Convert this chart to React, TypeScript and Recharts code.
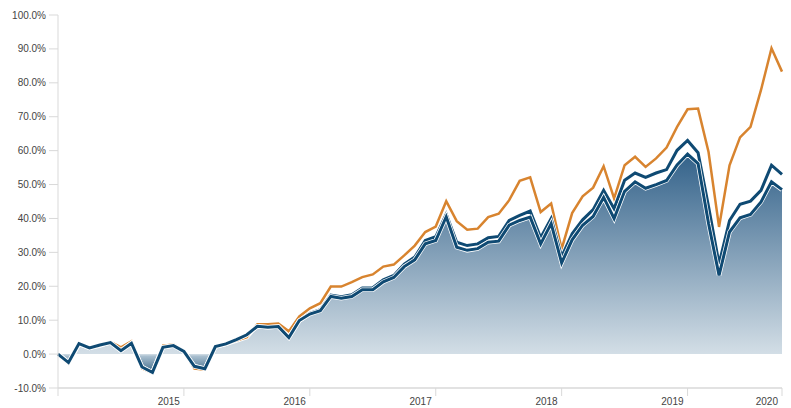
import React from "react";
import { Area, ComposedChart, Line, XAxis, YAxis } from "recharts";

// cumulative return, %, one point per month
const portfolio = [
  0, -2.5, 3.1, 1.8, 2.7, 3.4, 1.0, 3.2, -3.8, -5.4, 2.0, 2.5, 0.8, -3.6, -4.3, 2.2, 3.0, 4.3, 5.7, 8.2,
  7.9, 8.1, 4.9, 9.9, 11.8, 12.8, 17.0, 16.5, 17.0, 19.0, 19.0, 21.3, 22.6, 25.8, 27.8, 32.5, 33.5, 40.5, 31.5, 30.6,
  31.1, 33.0, 33.3, 38.0, 39.4, 40.4, 32.5, 38.5, 26.9, 33.7, 38.0, 40.6, 46.2, 40.0, 48.0, 50.8, 48.9, 50.0, 51.2, 55.8,
  59.0, 56.2, 38.5, 23.2, 36.0, 40.2, 41.2, 44.9, 50.8, 48.5,
];
const benchmark = [
  0, -2.5, 3.1, 1.8, 2.7, 3.4, 1.0, 3.2, -3.8, -5.4, 2.0, 2.5, 0.8, -3.6, -4.3, 2.2, 3.0, 4.3, 5.7, 8.2,
  7.9, 8.1, 4.9, 9.9, 12.0, 13.1, 17.4, 16.9, 17.5, 19.5, 19.6, 21.9, 23.2, 26.5, 28.6, 33.5, 34.6, 41.3, 33.0, 32.0,
  32.5, 34.3, 34.7, 39.4, 40.9, 42.2, 34.3, 40.0, 28.7, 35.5, 39.6, 42.6, 48.3, 42.9, 51.3, 53.4, 52.1, 53.4, 54.4, 60.1,
  63.0, 59.4, 43.5, 26.6, 39.4, 44.2, 45.1, 48.3, 55.7, 53.0,
];
const index = [
  0, -2.8, 3.0, 1.8, 2.5, 3.6, 2.0, 3.8, -4.2, -5.6, 2.5, 2.8, 0.9, -4.3, -4.6, 2.3, 3.0, 4.0, 5.0, 8.8,
  8.8, 9.0, 6.7, 11.1, 13.5, 15.0, 19.9, 19.9, 21.2, 22.7, 23.5, 25.8, 26.4, 29.1, 32.0, 36.0, 37.6, 45.1, 39.2, 36.7,
  37.0, 40.4, 41.4, 45.4, 51.1, 52.1, 41.9, 44.4, 31.0, 41.6, 46.5, 49.1, 55.4, 45.9, 55.7, 58.2, 55.2, 57.7, 60.9, 67.0,
  72.2, 72.4, 59.6, 37.5, 55.7, 63.9, 67.0, 77.9, 90.2, 83.3,
];

const yearTicks = [0, 12, 24, 36, 48, 60, 69];
const yearLabels = ["", "2015", "2016", "2017", "2018", "2019", "2020"];
const yTicks = [-10, 0, 10, 20, 30, 40, 50, 60, 70, 80, 90, 100];

const data = portfolio.map((v, i) => ({
  i,
  portfolio: v,
  benchmark: benchmark[i],
  index: index[i],
}));

const maxP = Math.max(...portfolio);
const minP = Math.min(...portfolio);
const zeroOffset = maxP / (maxP - minP);

const FONT = "'Liberation Sans', Arial, sans-serif";
const BLUE = "#0f4a73";
const ORANGE = "#d8842f";
const AXIS = "#d9d9d9";

function YearTick(props: any) {
  const { x, y, payload } = props;
  const pos = yearTicks.indexOf(payload.value);
  const label = pos >= 0 ? yearLabels[pos] : "";
  if (!label) return <g />;
  return (
    <text x={x - 4} y={y} dy="0.71em" textAnchor="end" fill="#444" fontSize={10} fontFamily={FONT}>
      {label}
    </text>
  );
}

export default function App() {
  return (
    <div style={{ position: "absolute", left: 0, top: 0, background: "#fff" }}>
      <ComposedChart width={791} height={408} data={data} margin={{ top: 15, right: 9, bottom: 0, left: 0 }}>
        <defs>
          <linearGradient id="areaFill" x1="0" y1="0" x2="0" y2="1">
            <stop offset="0" stopColor="#33628a" />
            <stop offset={zeroOffset} stopColor="#d3dee6" />
            <stop offset={zeroOffset + 0.01} stopColor="#a9bfcf" />
            <stop offset="1" stopColor="#3d6989" />
          </linearGradient>
        </defs>
        <XAxis
          dataKey="i"
          type="number"
          domain={[0, 69]}
          ticks={yearTicks}
          interval={0}
          height={20}
          tickSize={8}
          tickMargin={2}
          axisLine={{ stroke: AXIS, strokeWidth: 1.5 }}
          tickLine={{ stroke: AXIS }}
          tick={<YearTick />}
        />
        <YAxis
          domain={[-10, 100]}
          ticks={yTicks}
          interval={0}
          width={58}
          tickSize={9}
          tickMargin={3}
          axisLine={{ stroke: AXIS }}
          tickLine={{ stroke: AXIS }}
          tick={{ fill: "#444", fontSize: 10, fontFamily: FONT }}
          tickFormatter={(v: number) => `${v.toFixed(1)}%`}
        />
        <Area
          type="linear"
          dataKey="portfolio"
          baseValue={0}
          stroke="none"
          fill="url(#areaFill)"
          fillOpacity={1}
          isAnimationActive={false}
        />
        <Line type="linear" dataKey="index" stroke="#fff" strokeWidth={4.5} dot={false} activeDot={false} isAnimationActive={false} />
        <Line type="linear" dataKey="index" stroke={ORANGE} strokeWidth={2.5} dot={false} activeDot={false} isAnimationActive={false} />
        <Line type="linear" dataKey="benchmark" stroke="#fff" strokeWidth={4.5} dot={false} activeDot={false} isAnimationActive={false} />
        <Line type="linear" dataKey="benchmark" stroke={BLUE} strokeWidth={3} dot={false} activeDot={false} isAnimationActive={false} />
        <Line type="linear" dataKey="portfolio" stroke="#fff" strokeWidth={4.5} dot={false} activeDot={false} isAnimationActive={false} />
        <Line type="linear" dataKey="portfolio" stroke={BLUE} strokeWidth={3} dot={false} activeDot={false} isAnimationActive={false} />
      </ComposedChart>
    </div>
  );
}
